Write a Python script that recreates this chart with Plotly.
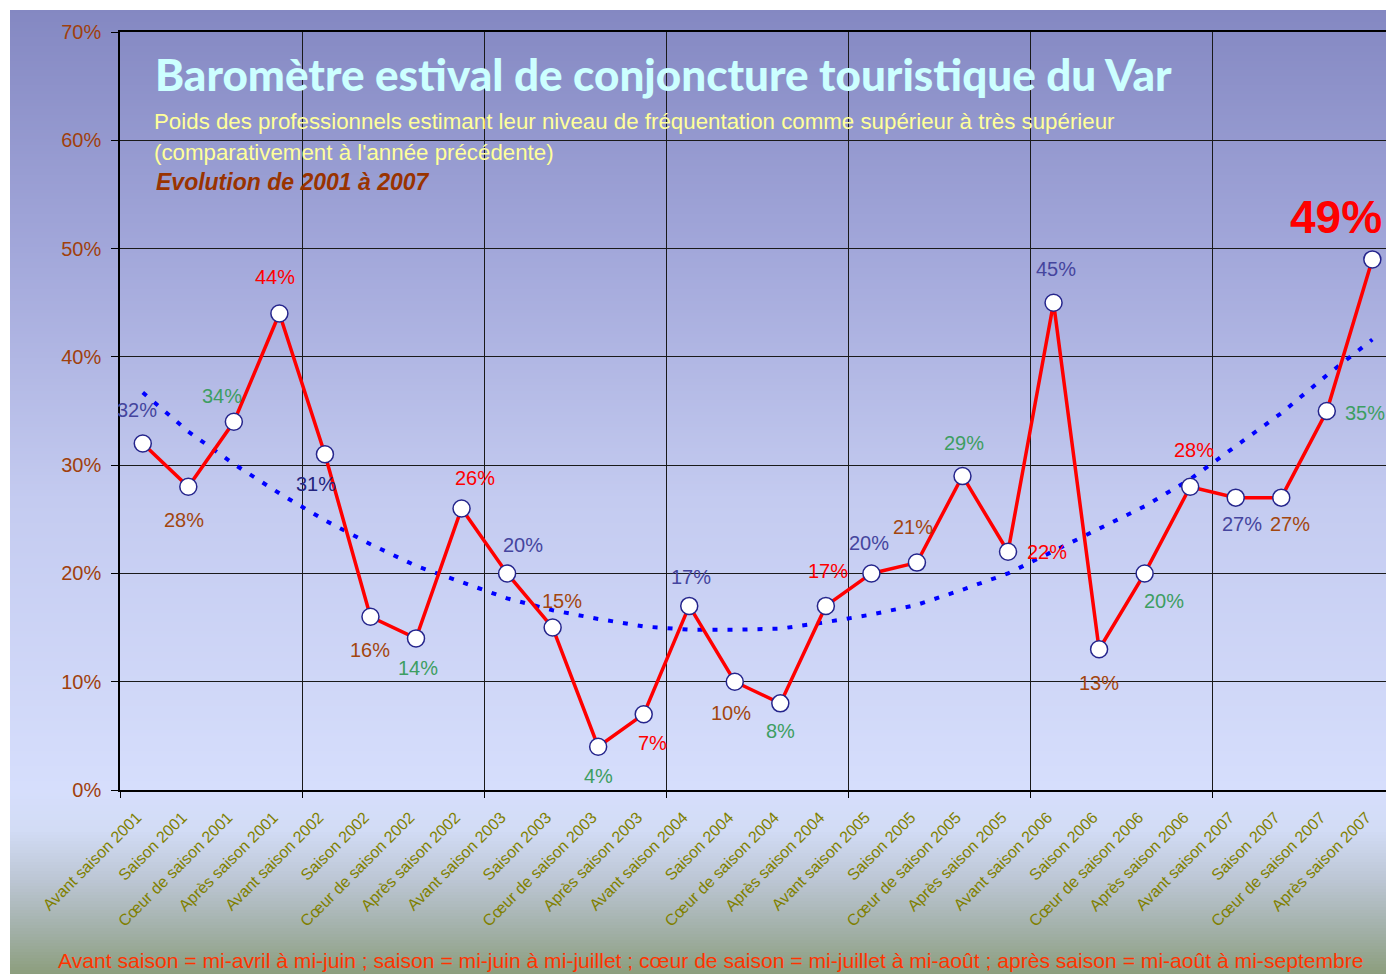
import plotly.graph_objects as go

# ---------------- data ----------------
categories = [
    "Avant saison 2001", "Saison 2001", "Cœur de saison 2001", "Après saison 2001",
    "Avant saison 2002", "Saison 2002", "Cœur de saison 2002", "Après saison 2002",
    "Avant saison 2003", "Saison 2003", "Cœur de saison 2003", "Après saison 2003",
    "Avant saison 2004", "Saison 2004", "Cœur de saison 2004", "Après saison 2004",
    "Avant saison 2005", "Saison 2005", "Cœur de saison 2005", "Après saison 2005",
    "Avant saison 2006", "Saison 2006", "Cœur de saison 2006", "Après saison 2006",
    "Avant saison 2007", "Saison 2007", "Cœur de saison 2007", "Après saison 2007",
]
values = [32, 28, 34, 44,
          31, 16, 14, 26,
          20, 15, 4, 7,
          17, 10, 8, 17,
          20, 21, 29, 22,
          45, 13, 20, 28,
          27, 27, 35, 49]
# polynomial trend line
trend = [36.7, 33.1, 30.1, 27.4, 24.9, 22.7, 20.7, 19.2, 17.7, 16.6, 15.8, 15.1,
         14.8, 14.8, 14.9, 15.5, 16.2, 17.1, 18.5, 20.0, 22.1, 24.2, 26.2, 28.7,
         31.7, 34.8, 38.3, 41.6]
y_ticks = [0, 10, 20, 30, 40, 50, 60, 70]

title_text = "Baromètre estival de conjoncture touristique du Var"
sub1 = "Poids des professionnels estimant leur niveau de fréquentation comme supérieur à très supérieur"
sub2 = "(comparativement à l'année précédente)"
sub3 = "Evolution de 2001 à 2007"
footnote = ("Avant saison = mi-avril à mi-juin ; saison = mi-juin à mi-juillet ; "
            "cœur de saison = mi-juillet à mi-août ; après saison = mi-août à mi-septembre")

# ---------------- styles ----------------
W, H = 1386, 974
L, R, T, B = 120, 0, 32, 184
PW, PH = W - L - R, H - T - B

def px(X):
    return (X - L) / PW

def py(Y):
    return (H - B - Y) / PH

season_colors = ["#45459e", "#a3460e", "#3d9e62", "#ff0000"]
label_colors = [season_colors[i % 4] for i in range(len(values))]
label_colors[4] = "#23237e"
label_shift = [(-6, 33), (-4, -33), (-12, 26), (-4, 37),
               (-9, -30), (0, -33), (2, -30), (13, 30),
               (16, 28), (9, 27), (0, -29), (9, -29),
               (2, 29), (-4, -31), (0, -28), (2, 35),
               (-2, 30), (-4, 36), (2, 33), (39, 0),
               (2, 34), (0, -34), (19, -28), (4, 37),
               (6, -26), (9, -26), (38, -2), (-36, 42)]

FONT = "Arial, Liberation Sans, sans-serif"
TITLE_FONT = "Lato, Liberation Sans, Arial, sans-serif"

idx = list(range(len(values)))

fig = go.Figure()

fig.add_trace(go.Scatter(
    x=idx, y=trend, mode="lines",
    line=dict(color="#0000ff", width=4, dash="5px,10px"),
    hoverinfo="skip", showlegend=False,
))
fig.add_trace(go.Scatter(
    x=idx, y=values, mode="lines+markers",
    line=dict(color="#ff0000", width=3.5),
    marker=dict(symbol="circle", size=17, color="white",
                line=dict(color="#25258c", width=1.5)),
    cliponaxis=False, showlegend=False,
))

annotations = []
for i, v in enumerate(values):
    big = (i == len(values) - 1)
    annotations.append(dict(
        x=i, y=v, xref="x", yref="y", text=f"{v}%", showarrow=False,
        xshift=label_shift[i][0], yshift=label_shift[i][1],
        font=dict(family=FONT, size=46 if big else 20, color=label_colors[i],
                  weight="bold" if big else "normal"),
    ))

annotations += [
    dict(x=px(153), y=py(74), xref="paper", yref="paper", xanchor="left", yanchor="middle",
         text=title_text, showarrow=False,
         font=dict(family=TITLE_FONT, size=44, color="#ccffff", weight=900)),
    dict(x=px(152), y=py(121), xref="paper", yref="paper", xanchor="left", yanchor="middle",
         text=sub1, showarrow=False,
         font=dict(family=FONT, size=22.3, color="#ffff99")),
    dict(x=px(152), y=py(152), xref="paper", yref="paper", xanchor="left", yanchor="middle",
         text=sub2, showarrow=False,
         font=dict(family=FONT, size=22.3, color="#ffff99")),
    dict(x=px(154), y=py(182), xref="paper", yref="paper", xanchor="left", yanchor="middle",
         text=f"<b><i>{sub3}</i></b>", showarrow=False,
         font=dict(family=FONT, size=23, color="#993300")),
    dict(x=px(56), y=py(961), xref="paper", yref="paper", xanchor="left", yanchor="middle",
         text=footnote, showarrow=False,
         font=dict(family=FONT, size=21.1, color="#ff3300")),
]

# background gradient (white frame on top/left)
stops = [(10, (132, 136, 194)), (250, (162, 167, 218)), (500, (196, 203, 240)),
         (790, (214, 222, 252)), (830, (210, 220, 245)), (880, (188, 198, 212)),
         (930, (162, 176, 168)), (974, (140, 158, 125))]

def color_at(Y):
    for (y0, c0), (y1, c1) in zip(stops[:-1], stops[1:]):
        if y0 <= Y <= y1:
            t = (Y - y0) / (y1 - y0)
            return "rgb(%d,%d,%d)" % tuple(round(a + (b - a) * t) for a, b in zip(c0, c1))
    return "rgb(%d,%d,%d)" % stops[-1][1]

shapes = []
step = 3
Y = 10
while Y < H:
    shapes.append(dict(type="rect", xref="paper", yref="paper", layer="below",
                       x0=px(10), x1=px(W + 2), y0=py(Y), y1=py(min(Y + step, H) + 0.5),
                       line=dict(width=0), fillcolor=color_at(Y + step / 2)))
    Y += step

fig.update_layout(
    width=W, height=H,
    margin=dict(l=L, r=R, t=T, b=B, pad=0),
    paper_bgcolor="white", plot_bgcolor="rgba(0,0,0,0)",
    showlegend=False,
    annotations=annotations,
    shapes=shapes,
    font=dict(family=FONT),
    xaxis=dict(
        range=[-0.5, 27.3], tickmode="array", tickvals=idx, ticktext=categories,
        tickangle=-45, ticks="", showgrid=False, zeroline=False,
        tickfont=dict(family=FONT, size=16, color="#808000"),
        ticklabelstandoff=10, ticklabelshift=-6,
        showline=True, linecolor="black", linewidth=1.5, mirror=True,
        minor=dict(tickmode="array", tickvals=[-0.5 + 4 * k for k in range(8)],
                   ticks="outside", ticklen=6, tickcolor="black",
                   showgrid=True, gridcolor="#1a1a1a", gridwidth=1),
    ),
    yaxis=dict(
        range=[0, 70], tickmode="array", tickvals=y_ticks,
        ticktext=[f"{t}%" for t in y_ticks],
        ticks="outside", ticklen=7, tickcolor="black",
        showgrid=True, gridcolor="#1a1a1a", gridwidth=1, zeroline=False,
        showline=True, linecolor="black", linewidth=1.5,
        tickfont=dict(family=FONT, size=20, color="#a0400c"),
        ticklabelstandoff=6,
    ),
)

fig.write_html("out.html", config={"displayModeBar": False},
               post_script="document.body.style.margin='0px';document.body.style.overflow='hidden';")
